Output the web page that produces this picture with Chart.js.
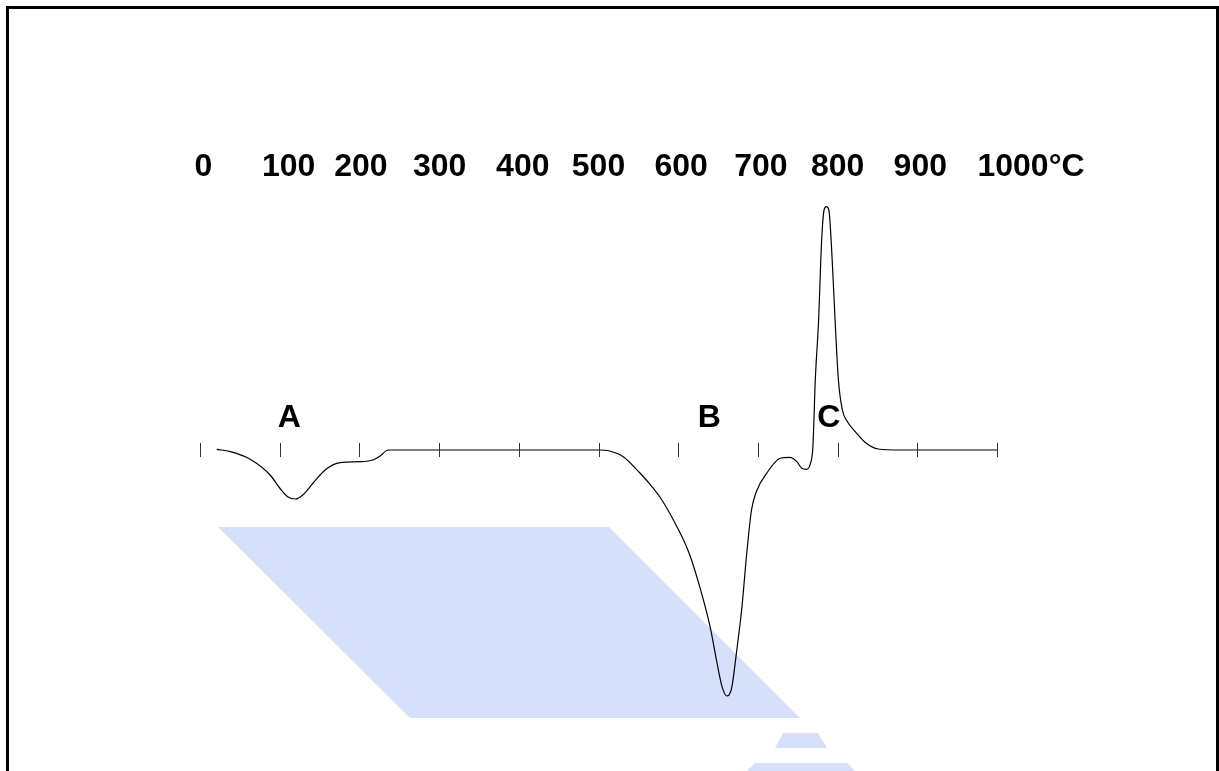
<!DOCTYPE html>
<html>
<head>
<meta charset="utf-8">
<script src="https://cdn.jsdelivr.net/npm/chart.js@4/dist/chart.umd.min.js"></script>
<style>
  html, body { margin: 0; padding: 0; background: #fff; }
  canvas { display: block; }
</style>
</head>
<body>
<canvas id="c" width="1219" height="771"></canvas>
<script>
// Temperature (°C) of each sampled point of the DTA curve
const temps = [21, 38, 63, 88, 100, 110, 120, 129, 142, 157, 176, 201, 217, 226, 236,
  300, 400, 500, 514, 531, 552, 560, 577, 594, 613, 627, 640, 648, 655, 661, 667, 673, 680,
  686, 692, 698, 711, 728, 740, 749, 755, 761, 766, 769, 772, 776, 780, 783, 786, 789, 793,
  797, 801, 806, 811, 824, 836, 851, 878, 1000];
// DTA signal (arbitrary units, 0 = baseline; negative = endothermic)
const signal = [0.7, -1.7, -9.3, -25, -38, -46.7, -49, -45, -33, -20, -12.7, -11.7, -10, -6, 0,
  0, 0, 0, -1, -6.7, -23, -30, -47, -70, -101.7, -136.7, -176.7, -210, -236.7, -246, -238.3, -203.3, -156.7,
  -103.3, -60, -41.7, -23.3, -8.3, -7.3, -11.7, -18.3, -19.3, -13.3, 3.3, 70, 127, 210, 240, 243.3, 240, 193.3,
  127, 70, 40, 30, 16.7, 6.7, 1, 0, 0];
// Temperature axis ticks and their labels
const tickValues = [0, 100, 200, 300, 400, 500, 600, 700, 800, 900, 1000];
const tickLabels = ['0', '100', '200', '300', '400', '500', '600', '700', '800', '900', '1000°C'];
// Peak annotations
const peakLabels = ['A', 'B', 'C'];
const peakTemps = [112, 639, 789];

// ---- styling constants (not data) ----
const FONT = 'bold 32px "Liberation Sans", Arial, sans-serif';
const labelNudgePx = [3.5, 9, 1.5, 0.5, 4, 0, 3, 3, 0, 3, 34];
const BLUE = 'rgb(214,224,250)';

const decorPlugin = {
  id: 'decor',
  beforeDraw(chart) {
    const ctx = chart.ctx;
    ctx.save();
    ctx.fillStyle = '#fff';
    ctx.fillRect(0, 0, chart.width, chart.height);
    // light blue watermark shapes
    ctx.fillStyle = BLUE;
    const polys = [
      [[218, 527], [609, 527], [800, 718], [410, 718]],
      [[783, 733], [818, 733], [827, 748], [775, 748]],
      [[755, 763], [847, 763], [856, 772], [746, 772]]
    ];
    polys.forEach(p => {
      ctx.beginPath();
      ctx.moveTo(p[0][0], p[0][1]);
      for (let i = 1; i < p.length; i++) ctx.lineTo(p[i][0], p[i][1]);
      ctx.closePath();
      ctx.fill();
    });
    // frame
    ctx.fillStyle = '#000';
    ctx.fillRect(6, 6, 1213, 3);
    ctx.fillRect(6, 6, 3, 765);
    ctx.fillRect(1216, 6, 3, 765);
    ctx.restore();
  },
  afterDatasetsDraw(chart) {
    const ctx = chart.ctx;
    const xs = chart.scales.x, ys = chart.scales.y;
    ctx.save();
    // tick marks on the baseline
    ctx.strokeStyle = '#333';
    ctx.lineWidth = 1;
    const yTop = ys.getPixelForValue(7), yBot = ys.getPixelForValue(-7);
    tickValues.forEach(v => {
      const px = Math.round(xs.getPixelForValue(v)) + 0.5;
      ctx.beginPath();
      ctx.moveTo(px, yTop);
      ctx.lineTo(px, yBot);
      ctx.stroke();
    });
    // tick labels above
    ctx.fillStyle = '#000';
    ctx.font = FONT;
    ctx.textAlign = 'center';
    ctx.textBaseline = 'alphabetic';
    tickLabels.forEach((t, i) => {
      ctx.fillText(t, xs.getPixelForValue(tickValues[i]) + labelNudgePx[i], 176);
    });
    // peak letters
    const yLetter = ys.getPixelForValue(0) - 23;
    peakLabels.forEach((t, i) => {
      ctx.fillText(t, xs.getPixelForValue(peakTemps[i]), yLetter);
    });
    ctx.restore();
  }
};

new Chart(document.getElementById('c'), {
  type: 'line',
  data: {
    datasets: [{
      data: temps.map((t, i) => ({ x: t, y: signal[i] })),
      borderColor: '#000',
      borderWidth: 1.2,
      pointRadius: 0,
      fill: false,
      cubicInterpolationMode: 'monotone'
    }]
  },
  options: {
    responsive: false,
    animation: false,
    devicePixelRatio: 1,
    layout: { padding: { left: 200, right: 222, top: 0, bottom: 0 } },
    scales: {
      x: { type: 'linear', min: 0, max: 1000, display: false },
      y: { type: 'linear', min: -321, max: 450, display: false }
    },
    plugins: { legend: { display: false }, tooltip: { enabled: false } }
  },
  plugins: [decorPlugin]
});
</script>
</body>
</html>
